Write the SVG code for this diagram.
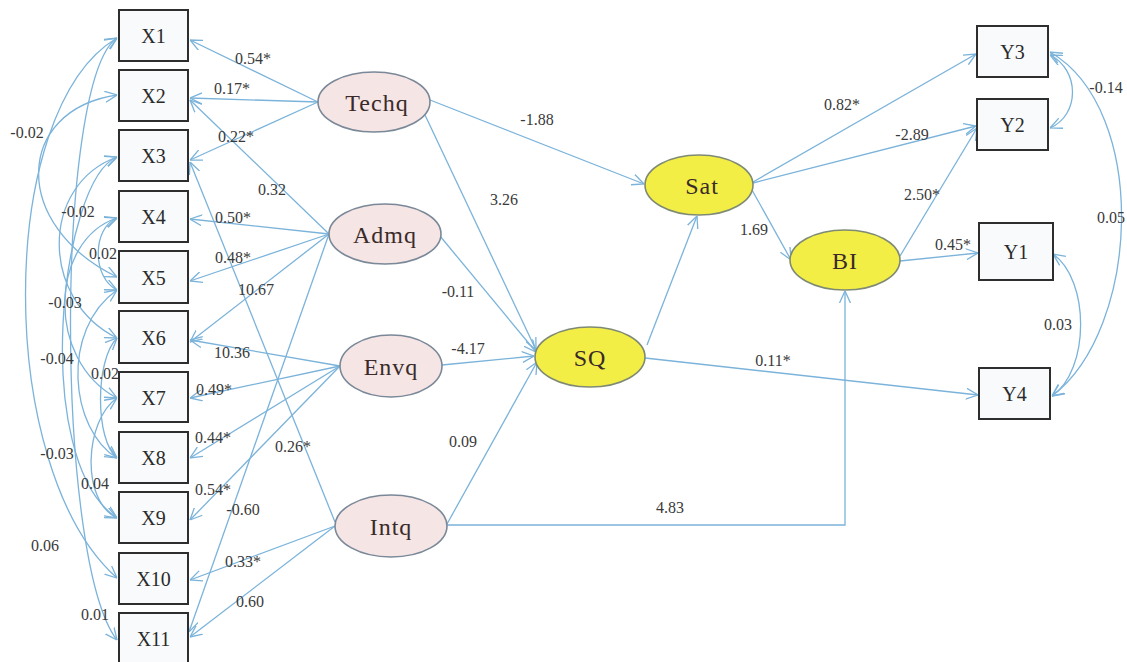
<svg xmlns="http://www.w3.org/2000/svg" width="1127" height="662" viewBox="0 0 1127 662" font-family="'Liberation Serif', 'DejaVu Serif', serif">
  <style>
    .obs { fill: #f8fafc; stroke: #2e2e2e; stroke-width: 2; }
    .lat { fill: #f5e5e5; stroke: #7a8898; stroke-width: 1.6; }
    .end { fill: #f3ee45; stroke: #7f8a74; stroke-width: 1.6; }
    .edge { fill: none; stroke: #7bb3da; stroke-width: 1.3; }
    text { font-family: 'Liberation Serif', 'DejaVu Serif', serif; }
    .nlab { font-size: 20px; fill: #2a2a2a; text-anchor: middle; }
    .llab { font-size: 24px; fill: #3a2a2a; text-anchor: middle; letter-spacing: 1px; }
    .elab { font-size: 16px; fill: #3a3a3a; text-anchor: middle; }
  </style>
  <defs>
    <marker id="arr" viewBox="0 0 12 12" refX="12" refY="6" markerWidth="12" markerHeight="12" markerUnits="userSpaceOnUse" orient="auto-start-reverse">
      <path d="M0,0.5 L12,6 L0,11.5" fill="none" stroke="#7bb3da" stroke-width="1.3"/>
    </marker>
  </defs>

  <rect width="1127" height="662" fill="#ffffff"/>

  <!-- connectors -->
  <g id="connectors" class="edge" marker-end="url(#arr)">
    <!-- Techq loadings -->
    <line x1="318" y1="102" x2="190" y2="40"/>
    <line x1="318" y1="102" x2="190" y2="98"/>
    <line x1="318" y1="102" x2="190" y2="160"/>
    <!-- Admq loadings -->
    <line x1="329" y1="234" x2="190" y2="100"/>
    <line x1="329" y1="234" x2="190" y2="219"/>
    <line x1="329" y1="234" x2="190" y2="281"/>
    <line x1="329" y1="234" x2="190" y2="342"/>
    <line x1="329" y1="234" x2="189" y2="632"/>
    <!-- Envq loadings -->
    <line x1="340" y1="366" x2="190" y2="340"/>
    <line x1="340" y1="366" x2="190" y2="398"/>
    <line x1="340" y1="366" x2="190" y2="458"/>
    <line x1="340" y1="366" x2="190" y2="520"/>
    <!-- Intq loadings -->
    <line x1="335" y1="522" x2="190" y2="162"/>
    <line x1="335" y1="526" x2="190" y2="580"/>
    <line x1="335" y1="526" x2="190" y2="637"/>
    <!-- structural paths -->
    <line x1="430" y1="100" x2="644" y2="184"/>
    <line x1="425" y1="115" x2="536" y2="350"/>
    <line x1="440" y1="236" x2="536" y2="352"/>
    <line x1="442" y1="365" x2="534" y2="356"/>
    <line x1="447" y1="524" x2="537" y2="362"/>
    <line x1="647" y1="345" x2="697" y2="216"/>
    <line x1="645" y1="358" x2="978" y2="395"/>
    <line x1="753" y1="182" x2="976" y2="54"/>
    <line x1="753" y1="183" x2="976" y2="126"/>
    <line x1="752" y1="190" x2="791" y2="260"/>
    <line x1="900" y1="256" x2="977" y2="128"/>
    <line x1="900" y1="261" x2="978" y2="253"/>
    <polyline points="447,525 845,525 845,291"/>
    <!-- covariances between X indicators -->
    <g marker-start="url(#arr)">
      <path d="M117,95 C15,110 10,225 117,277"/>
      <path d="M117,157 C60,180 30,460 117,518"/>
      <path d="M117,218 C92,228 92,278 117,290"/>
      <path d="M117,157 C40,185 40,300 117,338"/>
      <path d="M117,218 C50,240 45,360 117,398"/>
      <path d="M117,338 C95,360 95,440 117,458"/>
      <path d="M117,290 C60,330 70,430 117,458"/>
      <path d="M117,398 C85,420 80,500 117,518"/>
      <path d="M117,38 C-5,110 -5,470 117,578"/>
      <path d="M117,38 C55,80 55,560 117,640"/>
      <!-- covariances between Y indicators -->
      <path d="M1050,55 C1080,70 1080,115 1050,128"/>
      <path d="M1050,52 C1150,110 1140,330 1052,396"/>
      <path d="M1053,254 C1090,280 1090,370 1052,396"/>
    </g>
  </g>

  <!-- connector labels -->
  <g id="edge-labels" class="elab">
    <text class="elab" x="253" y="64">0.54*</text>
    <text class="elab" x="232" y="94">0.17*</text>
    <text class="elab" x="236" y="142">0.22*</text>
    <text class="elab" x="272" y="195">0.32</text>
    <text class="elab" x="233" y="223">0.50*</text>
    <text class="elab" x="233" y="263">0.48*</text>
    <text class="elab" x="256" y="295">10.67</text>
    <text class="elab" x="232" y="358">10.36</text>
    <text class="elab" x="214" y="395">0.49*</text>
    <text class="elab" x="213" y="443">0.44*</text>
    <text class="elab" x="293" y="452">0.26*</text>
    <text class="elab" x="213" y="495">0.54*</text>
    <text class="elab" x="243" y="515">-0.60</text>
    <text class="elab" x="243" y="567">0.33*</text>
    <text class="elab" x="250" y="607">0.60</text>
    <text class="elab" x="27" y="138">-0.02</text>
    <text class="elab" x="78" y="217">-0.02</text>
    <text class="elab" x="103" y="259">0.02</text>
    <text class="elab" x="65" y="308">-0.03</text>
    <text class="elab" x="57" y="364">-0.04</text>
    <text class="elab" x="105" y="379">0.02</text>
    <text class="elab" x="57" y="459">-0.03</text>
    <text class="elab" x="95" y="489">0.04</text>
    <text class="elab" x="45" y="551">0.06</text>
    <text class="elab" x="95" y="620">0.01</text>
    <text class="elab" x="537" y="125">-1.88</text>
    <text class="elab" x="504" y="205">3.26</text>
    <text class="elab" x="458" y="297">-0.11</text>
    <text class="elab" x="468" y="354">-4.17</text>
    <text class="elab" x="463" y="447">0.09</text>
    <text class="elab" x="670" y="513">4.83</text>
    <text class="elab" x="754" y="235">1.69</text>
    <text class="elab" x="773" y="366">0.11*</text>
    <text class="elab" x="842" y="110">0.82*</text>
    <text class="elab" x="912" y="140">-2.89</text>
    <text class="elab" x="922" y="200">2.50*</text>
    <text class="elab" x="953" y="250">0.45*</text>
    <text class="elab" x="1106" y="93">-0.14</text>
    <text class="elab" x="1097" y="223" style="text-anchor:start">0.05</text>
    <text class="elab" x="1058" y="330">0.03</text>
  </g>

  <!-- observed indicators -->
  <g id="X1"><rect class="obs" x="119" y="10" width="69" height="51"/><text class="nlab" x="153.5" y="43">X1</text></g>
  <g id="X2"><rect class="obs" x="119" y="70" width="69" height="51"/><text class="nlab" x="153.5" y="103">X2</text></g>
  <g id="X3"><rect class="obs" x="119" y="130" width="69" height="51"/><text class="nlab" x="153.5" y="163">X3</text></g>
  <g id="X4"><rect class="obs" x="119" y="191" width="69" height="51"/><text class="nlab" x="153.5" y="224">X4</text></g>
  <g id="X5"><rect class="obs" x="119" y="251" width="69" height="52"/><text class="nlab" x="153.5" y="285">X5</text></g>
  <g id="X6"><rect class="obs" x="119" y="311" width="69" height="52"/><text class="nlab" x="153.5" y="345">X6</text></g>
  <g id="X7"><rect class="obs" x="119" y="372" width="69" height="50"/><text class="nlab" x="153.5" y="405">X7</text></g>
  <g id="X8"><rect class="obs" x="119" y="432" width="69" height="51"/><text class="nlab" x="153.5" y="465">X8</text></g>
  <g id="X9"><rect class="obs" x="119" y="492" width="69" height="51"/><text class="nlab" x="153.5" y="525">X9</text></g>
  <g id="X10"><rect class="obs" x="119" y="553" width="69" height="51"/><text class="nlab" x="153.5" y="586">X10</text></g>
  <g id="X11"><rect class="obs" x="119" y="613" width="69" height="51"/><text class="nlab" x="153.5" y="646">X11</text></g>

  <g id="Y3"><rect class="obs" x="977" y="26" width="71" height="51"/><text class="nlab" x="1012.5" y="59">Y3</text></g>
  <g id="Y2"><rect class="obs" x="977" y="99" width="71" height="51"/><text class="nlab" x="1012.5" y="132">Y2</text></g>
  <g id="Y1"><rect class="obs" x="979" y="223" width="74" height="57"/><text class="nlab" x="1016" y="259">Y1</text></g>
  <g id="Y4"><rect class="obs" x="979" y="368" width="71" height="51"/><text class="nlab" x="1014.5" y="401">Y4</text></g>

  <!-- latent constructs -->
  <g id="Techq"><ellipse class="lat" cx="374" cy="102" rx="56" ry="30"/><text class="llab" x="377" y="111">Techq</text></g>
  <g id="Admq"><ellipse class="lat" cx="385" cy="234" rx="56" ry="30"/><text class="llab" x="385" y="243">Admq</text></g>
  <g id="Envq"><ellipse class="lat" cx="391" cy="366" rx="51" ry="31"/><text class="llab" x="391" y="375">Envq</text></g>
  <g id="Intq"><ellipse class="lat" cx="391" cy="526" rx="56" ry="31"/><text class="llab" x="391" y="535">Intq</text></g>

  <g id="Sat"><ellipse class="end" cx="699" cy="185" rx="54" ry="30"/><text class="llab" x="702" y="194">Sat</text></g>
  <g id="SQ"><ellipse class="end" cx="590" cy="357" rx="55" ry="30"/><text class="llab" x="590" y="366">SQ</text></g>
  <g id="BI"><ellipse class="end" cx="845" cy="260" rx="55" ry="30"/><text class="llab" x="845" y="269">BI</text></g>
</svg>
